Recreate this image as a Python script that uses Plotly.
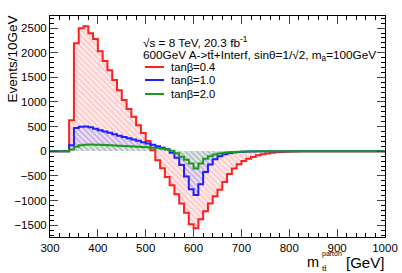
import plotly.graph_objects as go

# ---- data (bin low edges, 10 GeV bins) ----
bin_start = list(range(340, 840, 10))
red_vals = [630, 2190, 2495, 2535, 2395, 2280, 2030, 1830, 1645, 1445,
            1240, 1040, 860, 700, 530, 370, 210, 20, -180, -345,
            -520, -690, -870, -1060, -1250, -1480, -1560, -1380, -1215, -1060,
            -915, -780, -625, -460, -350, -265, -200, -150, -115, -82,
            -62, -47, -30, -22, -16, -11, -7, -4, -2, -1]
blue_vals = [120, 470, 495, 500, 485, 455, 425, 400, 375, 345,
             315, 290, 262, 240, 215, 185, 160, 130, 100, 70,
             40, -30, -130, -280, -510, -770, -890, -670, -420, -270,
             -160, -100, -62, -40, -26, -17, -11, -7, -4, -2,
             0, 0, 0, 0, 0, 0, 0, 0, 0, 0]
green_vals = [35, 90, 120, 132, 135, 134, 130, 126, 121, 116,
              111, 106, 101, 96, 91, 85, 79, 72, 64, 52,
              35, 10, -40, -110, -170, -250, -350, -250, -150, -100,
              -65, -45, -30, -20, -13, -8, -5, -3, -2, 0,
              0, 0, 0, 0, 0, 0, 0, 0, 0, 0]
labels = ["tanβ=0.4", "tanβ=1.0", "tanβ=2.0"]
x_min, x_max, bw = 300, 1000, 10

series = [
    (red_vals, "#ff1f1f", "rgba(255,60,60,0.55)", "rgba(255,205,205,0.4)"),
    (blue_vals, "#1f1fff", "rgba(60,60,255,0.55)", "rgba(205,205,255,0.4)"),
    (green_vals, "#1a9a1a", "rgba(40,170,40,0.45)", "rgba(205,240,205,0.35)"),
]

edges = list(range(x_min, x_max + bw, bw))

def full_hist(vals):
    d = dict(zip(bin_start, vals))
    return [d.get(e, 0) for e in edges[:-1]]

fig = go.Figure()
for vals, lc, fg, bg in series:
    centers = [b + bw / 2 for b in bin_start]
    fig.add_trace(go.Bar(x=centers, y=vals, width=bw, showlegend=False,
                         marker=dict(color=bg, line_width=0,
                                     pattern=dict(shape="\\", fgcolor=fg, bgcolor=bg,
                                                  size=4, solidity=0.3)),
                         hoverinfo="skip"))
for vals, lc, fg, bg in series:
    h = full_hist(vals)
    fig.add_trace(go.Scatter(x=edges, y=h + [h[-1]], mode="lines",
                             line=dict(color=lc, width=2, shape="hv"),
                             showlegend=False, hoverinfo="skip"))

L, R, T, B = 50, 385, 16, 237
def px(x):
    return (x - L) / (R - L)
def py(y):
    return (B - y) / (B - T)

FONT = "Liberation Sans, Arial, Helvetica, sans-serif"
ann = []
ann.append(dict(text="√s = 8 TeV, 20.3 fb<sup>-1</sup>", x=px(141), y=py(42),
                xanchor="left", yanchor="middle", font=dict(size=11.75)))
ann.append(dict(text="600GeV A->tt̄+Interf, sinθ=1/√2, m<sub>a</sub>=100GeV", x=px(141), y=py(55),
                xanchor="left", yanchor="middle", font=dict(size=11.75)))
rows = [67, 80, 94]
shapes = []
for (vals, lc, fg, bg), lab, ry in zip(series, labels, rows):
    shapes.append(dict(type="line", xref="paper", yref="paper", x0=px(145), x1=px(164),
                       y0=py(ry), y1=py(ry), line=dict(color=lc, width=2)))
    ann.append(dict(text=lab, x=px(169), y=py(ry), xanchor="left", yanchor="middle",
                    font=dict(size=11.25)))
ann.append(dict(text="Events/10GeV", x=px(12), y=py(14), textangle=-90,
                xanchor="center", yanchor="top", font=dict(size=13.5)))
ann.append(dict(text="[GeV]", x=px(386), y=py(262), xanchor="right", yanchor="middle",
                font=dict(size=15)))
ann.append(dict(text="m", x=px(321), y=py(262), xanchor="right", yanchor="middle",
                font=dict(size=14.5)))
ann.append(dict(text="parton", x=px(320), y=py(254), xanchor="left", yanchor="middle",
                font=dict(size=7)))
ann.append(dict(text="tt̄", x=px(320), y=py(268), xanchor="left", yanchor="middle",
                font=dict(size=8)))
for a in ann:
    a.update(xref="paper", yref="paper", showarrow=False)

fig.update_layout(
    width=402, height=273, autosize=False,
    margin=dict(l=L, r=402 - R, t=T, b=273 - B, pad=0),
    paper_bgcolor="white", plot_bgcolor="white",
    barmode="overlay", bargap=0,
    font=dict(family=FONT, color="black", size=11),
    annotations=ann, shapes=shapes, showlegend=False,
    xaxis=dict(range=[x_min, x_max], dtick=100, tick0=300, ticks="inside", ticklen=8,
               showline=True, linecolor="black", linewidth=1, mirror="allticks",
               showgrid=False, zeroline=False, tickfont=dict(size=11.5), automargin=False,
               minor=dict(ticks="inside", dtick=20, ticklen=4, tickcolor="black", showgrid=False)),
    yaxis=dict(range=[-1740, 2745], dtick=500, ticks="inside", ticklen=8,
               showline=True, linecolor="black", linewidth=1, mirror="allticks",
               showgrid=False, zeroline=False, tickfont=dict(size=11.5), automargin=False,
               minor=dict(ticks="inside", dtick=100, ticklen=4, tickcolor="black", showgrid=False)),
)
fig.write_html("out.html", config={"displayModeBar": False},
               post_script="document.body.style.margin='0px';document.body.style.padding='0px';")
